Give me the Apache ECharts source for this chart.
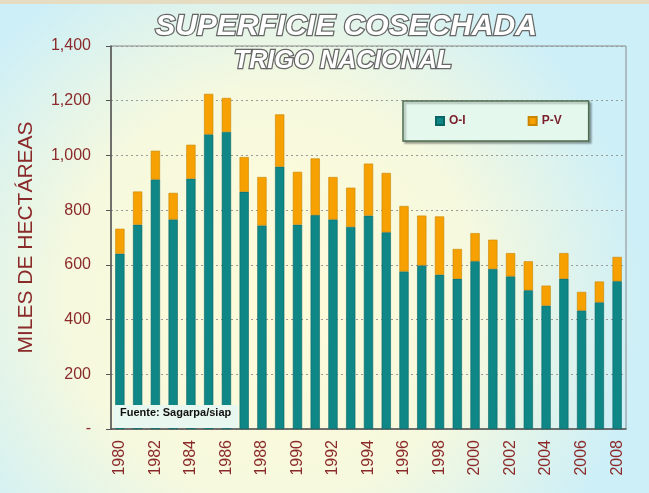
<!DOCTYPE html>
<html lang="es">
<head>
    <meta charset="UTF-8">
    <title>Superficie cosechada - Trigo nacional</title>
    <script src="https://cdn.jsdelivr.net/npm/echarts@6/dist/echarts.min.js"></script>
    <style>
        html, body { margin: 0; padding: 0; }
    </style>
</head>
<body>
    <div id="main" style="width: 649px;height: 493px"></div>
    <script type="text/javascript">
        // datos (miles de hectáreas)
        var years = ['1980', '1981', '1982', '1983', '1984', '1985', '1986', '1987', '1988', '1989',
            '1990', '1991', '1992', '1993', '1994', '1995', '1996', '1997', '1998', '1999',
            '2000', '2001', '2002', '2003', '2004', '2005', '2006', '2007', '2008'];
        var oiValues = [641, 747, 912, 766, 915, 1077, 1086, 867, 744, 959,
            747, 782, 766, 739, 780, 719, 576, 598, 564, 549,
            613, 585, 558, 507, 451, 549, 433, 463, 540];
        var pvValues = [91, 121, 105, 97, 124, 148, 124, 127, 177, 191,
            193, 207, 155, 143, 190, 217, 239, 182, 213, 109,
            103, 107, 85, 106, 73, 94, 68, 76, 89];

        var red = '#8b2a2a';
        var font = '"Liberation Sans", Arial, sans-serif';

        var myChart = echarts.init(document.getElementById('main'));
        var option = {
            animation: false,
            backgroundColor: {
                type: 'radial', x: 0.42, y: 0.6, r: 0.75,
                colorStops: [
                    { offset: 0, color: '#fffbd8' },
                    { offset: 0.55, color: '#f6f9de' },
                    { offset: 1, color: '#cdeff7' }
                ]
            },
            grid: {
                left: 111, right: 23, top: 46, bottom: 64,
                show: true, borderColor: '#8a8a8a', borderWidth: 1,
                backgroundColor: 'transparent'
            },
            legend: {
                left: 403, top: 101,
                padding: [14, 27, 14, 32],
                itemWidth: 8, itemHeight: 8, itemGap: 62,
                icon: 'rect',
                backgroundColor: '#e4f8ee',
                borderColor: '#4d6b4d', borderWidth: 1.5,
                shadowColor: 'rgba(0,0,0,0.3)', shadowBlur: 2, shadowOffsetX: 2, shadowOffsetY: 2,
                textStyle: { color: '#7a1f2b', fontWeight: 'bold', fontSize: 12, fontFamily: font }
            },
            xAxis: {
                type: 'category',
                data: years,
                axisLine: { lineStyle: { color: '#555', width: 1.5 } },
                axisTick: { interval: 0, length: 5, lineStyle: { color: '#555' } },
                axisLabel: {
                    interval: 1, rotate: 90, margin: 11,
                    color: red, fontSize: 16, fontFamily: font
                }
            },
            yAxis: {
                type: 'value',
                min: 0, max: 1400, interval: 200,
                name: 'MILES DE HECTÁREAS',
                nameLocation: 'middle',
                nameGap: 74,
                nameTextStyle: { color: red, fontSize: 21, fontFamily: font },
                axisLine: { show: true, lineStyle: { color: '#555', width: 1.5 } },
                axisTick: { show: true, length: 5, lineStyle: { color: '#555' } },
                axisLabel: {
                    margin: 20, color: red, fontSize: 16, fontFamily: font,
                    formatter: function (v) {
                        return v === 0 ? '-' : v.toLocaleString('en-US');
                    }
                },
                splitLine: { lineStyle: { color: '#9a9a9a', type: [2, 3] } }
            },
            series: [{
                name: 'O-I',
                type: 'bar',
                stack: 'total',
                barWidth: '52%',
                data: oiValues,
                itemStyle: { color: '#0f8787', borderColor: '#0a6464', borderWidth: 0.6 }
            }, {
                name: 'P-V',
                type: 'bar',
                stack: 'total',
                data: pvValues,
                itemStyle: { color: '#f6a100', borderColor: '#c98400', borderWidth: 0.6 }
            }],
            graphic: [{
                type: 'rect', z: 100,
                shape: { x: 0, y: 0, width: 649, height: 4 },
                style: { fill: '#e6dcc2' }
            }, {
                type: 'text', z: 100,
                x: 346, y: 27,
                style: {
                    text: 'SUPERFICIE COSECHADA',
                    align: 'center', verticalAlign: 'middle',
                    font: 'italic bold 30px ' + font,
                    fill: '#ffffff', stroke: '#666666', lineWidth: 2.5
                }
            }, {
                type: 'text', z: 100,
                x: 343, y: 61,
                style: {
                    text: 'TRIGO NACIONAL',
                    align: 'center', verticalAlign: 'middle',
                    font: 'italic bold 25px ' + font,
                    fill: '#ffffff', stroke: '#666666', lineWidth: 2.5
                }
            }, {
                type: 'rect', z: 100,
                shape: { x: 113, y: 405, width: 125, height: 23 },
                style: { fill: '#e9f7f1' }
            }, {
                type: 'text', z: 101,
                x: 120, y: 413,
                style: {
                    text: 'Fuente: Sagarpa/siap',
                    align: 'left', verticalAlign: 'middle',
                    font: 'bold 11px "Liberation Sans Narrow", ' + font,
                    fill: '#111111'
                }
            }]
        };
        myChart.setOption(option);
    </script>
</body>
</html>
